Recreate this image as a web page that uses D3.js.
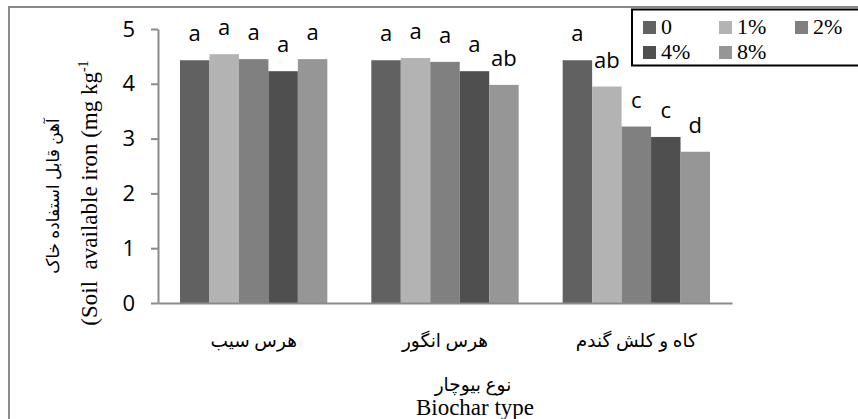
<!DOCTYPE html>
<html>
<head>
<meta charset="utf-8">
<script src="https://cdn.jsdelivr.net/npm/d3@7"></script>
<style>
  html, body { margin: 0; padding: 0; background: #fff; }
  svg { display: block; }
</style>
</head>
<body>
<svg id="chart" width="858" height="419"></svg>
<script>
// Biochar types (x categories) and application rates (series)
const categories = ["هرس سیب", "هرس انگور", "کاه و کلش گندم"];
const seriesNames = ["0", "1%", "2%", "4%", "8%"];
const seriesColors = ["#616161", "#b3b3b3", "#808080", "#4f4f4f", "#969696"];

// Soil available iron (mg/kg), one array per series, in category order
const rate0  = [4.43, 4.43, 4.43];
const rate1  = [4.54, 4.47, 3.95];
const rate2  = [4.45, 4.40, 3.22];
const rate4  = [4.23, 4.23, 3.03];
const rate8  = [4.45, 3.98, 2.76];
const seriesValues = [rate0, rate1, rate2, rate4, rate8];

// Mean-separation letters, per series, in category order
const letters0 = ["a", "a", "a"];
const letters1 = ["a", "a", "ab"];
const letters2 = ["a", "a", "c"];
const letters4 = ["a", "a", "c"];
const letters8 = ["a", "ab", "d"];
const seriesLetters = [letters0, letters1, letters2, letters4, letters8];

const yTicks = [0, 1, 2, 3, 4, 5];

const svg = d3.select("#chart");
const plot = { left: 158, right: 732, top: 29, bottom: 303 };
const serif = "'Liberation Serif', 'DejaVu Sans', serif";
const sans = "'Open Sans', sans-serif";

// Chart-area frame (only its top and left edges fall inside the view)
svg.append("rect")
  .attr("x", 9).attr("y", 7)
  .attr("width", 1000).attr("height", 1000)
  .attr("fill", "none").attr("stroke", "#8a8a8a").attr("stroke-width", 2);

const x0 = d3.scaleBand().domain(categories)
  .range([plot.left, plot.right]).paddingInner(0.23).paddingOuter(0.115);
const x1 = d3.scaleBand().domain(seriesNames).range([0, x0.bandwidth()]);
const y = d3.scaleLinear().domain([0, 5]).range([plot.bottom, plot.top]);

// Bars
const rows = [];
categories.forEach((c, ci) => {
  seriesNames.forEach((s, si) => {
    rows.push({ c, s, si, v: seriesValues[si][ci], lab: seriesLetters[si][ci] });
  });
});

const g = svg.append("g");
g.selectAll("rect.bar").data(rows).join("rect")
  .attr("class", "bar")
  .attr("x", d => x0(d.c) + x1(d.s))
  .attr("y", d => y(d.v))
  .attr("width", x1.bandwidth())
  .attr("height", d => y(0) - y(d.v))
  .attr("fill", d => seriesColors[d.si]);

// Letters above bars
g.selectAll("text.lab").data(rows).join("text")
  .attr("class", "lab")
  .attr("x", d => x0(d.c) + x1(d.s) + x1.bandwidth() / 2)
  .attr("y", d => y(d.v) - 19)
  .attr("text-anchor", "middle")
  .attr("font-family", sans)
  .attr("font-size", 22)
  .attr("fill", "#000")
  .text(d => d.lab);

// Y axis
const yAxis = svg.append("g")
  .attr("transform", `translate(${plot.left},0)`)
  .call(d3.axisLeft(y).tickValues(yTicks).tickFormat(d3.format("d")).tickSize(7).tickSizeOuter(0));
yAxis.select(".domain").attr("stroke", "#8a8a8a").attr("stroke-width", 2);
yAxis.selectAll(".tick line").attr("stroke", "#8a8a8a").attr("stroke-width", 2);
yAxis.selectAll(".tick text")
  .attr("x", -23)
  .attr("font-family", sans)
  .attr("font-size", 22)
  .attr("fill", "#000");

// X axis
const xAxis = svg.append("g")
  .attr("transform", `translate(0,${plot.bottom})`)
  .call(d3.axisBottom(x0).tickSize(0).tickSizeOuter(0));
xAxis.select(".domain").attr("stroke", "#8a8a8a").attr("stroke-width", 2);
xAxis.selectAll(".tick text")
  .attr("y", 44)
  .attr("dy", 0)
  .attr("font-family", serif)
  .attr("font-size", 18.5)
  .attr("fill", "#000");

// X axis title (Persian and English)
svg.append("text")
  .attr("x", 473).attr("y", 391)
  .attr("text-anchor", "middle")
  .attr("font-family", serif)
  .attr("font-size", 18.5)
  .text("نوع بیوچار");
svg.append("text")
  .attr("x", 475).attr("y", 415)
  .attr("text-anchor", "middle")
  .attr("font-family", "'Liberation Serif', serif")
  .attr("font-size", 23)
  .text("Biochar type");

// Y axis title, two rotated lines
svg.append("text")
  .attr("transform", "translate(59,196) rotate(-90)")
  .attr("text-anchor", "middle")
  .attr("font-family", serif)
  .attr("font-size", 17)
  .text("آهن قابل استفاده خاک");
const yt = svg.append("text")
  .attr("transform", "translate(97,193) rotate(-90)")
  .attr("text-anchor", "middle")
  .attr("font-family", "'Liberation Serif', serif")
  .attr("font-size", 23)
  .attr("direction", "ltr")
  .style("white-space", "pre");
yt.append("tspan").text("(Soil  available iron (mg kg");
yt.append("tspan").attr("font-size", 14).attr("dy", -9).text("-1");

// Legend
const legend = svg.append("g");
legend.append("rect")
  .attr("x", 632).attr("y", 9.5)
  .attr("width", 300).attr("height", 56)
  .attr("fill", "#fff").attr("stroke", "#000").attr("stroke-width", 2);
const legCols = 3, colW = 76;
const items = legend.selectAll("g.item").data(seriesNames).join("g")
  .attr("class", "item")
  .attr("transform", (d, i) => `translate(${643 + (i % legCols) * colW},${21 + Math.floor(i / legCols) * 25})`);
items.append("rect")
  .attr("width", 13).attr("height", 13)
  .attr("fill", (d, i) => seriesColors[i]);
items.append("text")
  .attr("x", 18).attr("y", 12.5)
  .attr("font-family", "'Liberation Serif', serif")
  .attr("font-size", 22)
  .text(d => d);
</script>
</body>
</html>
